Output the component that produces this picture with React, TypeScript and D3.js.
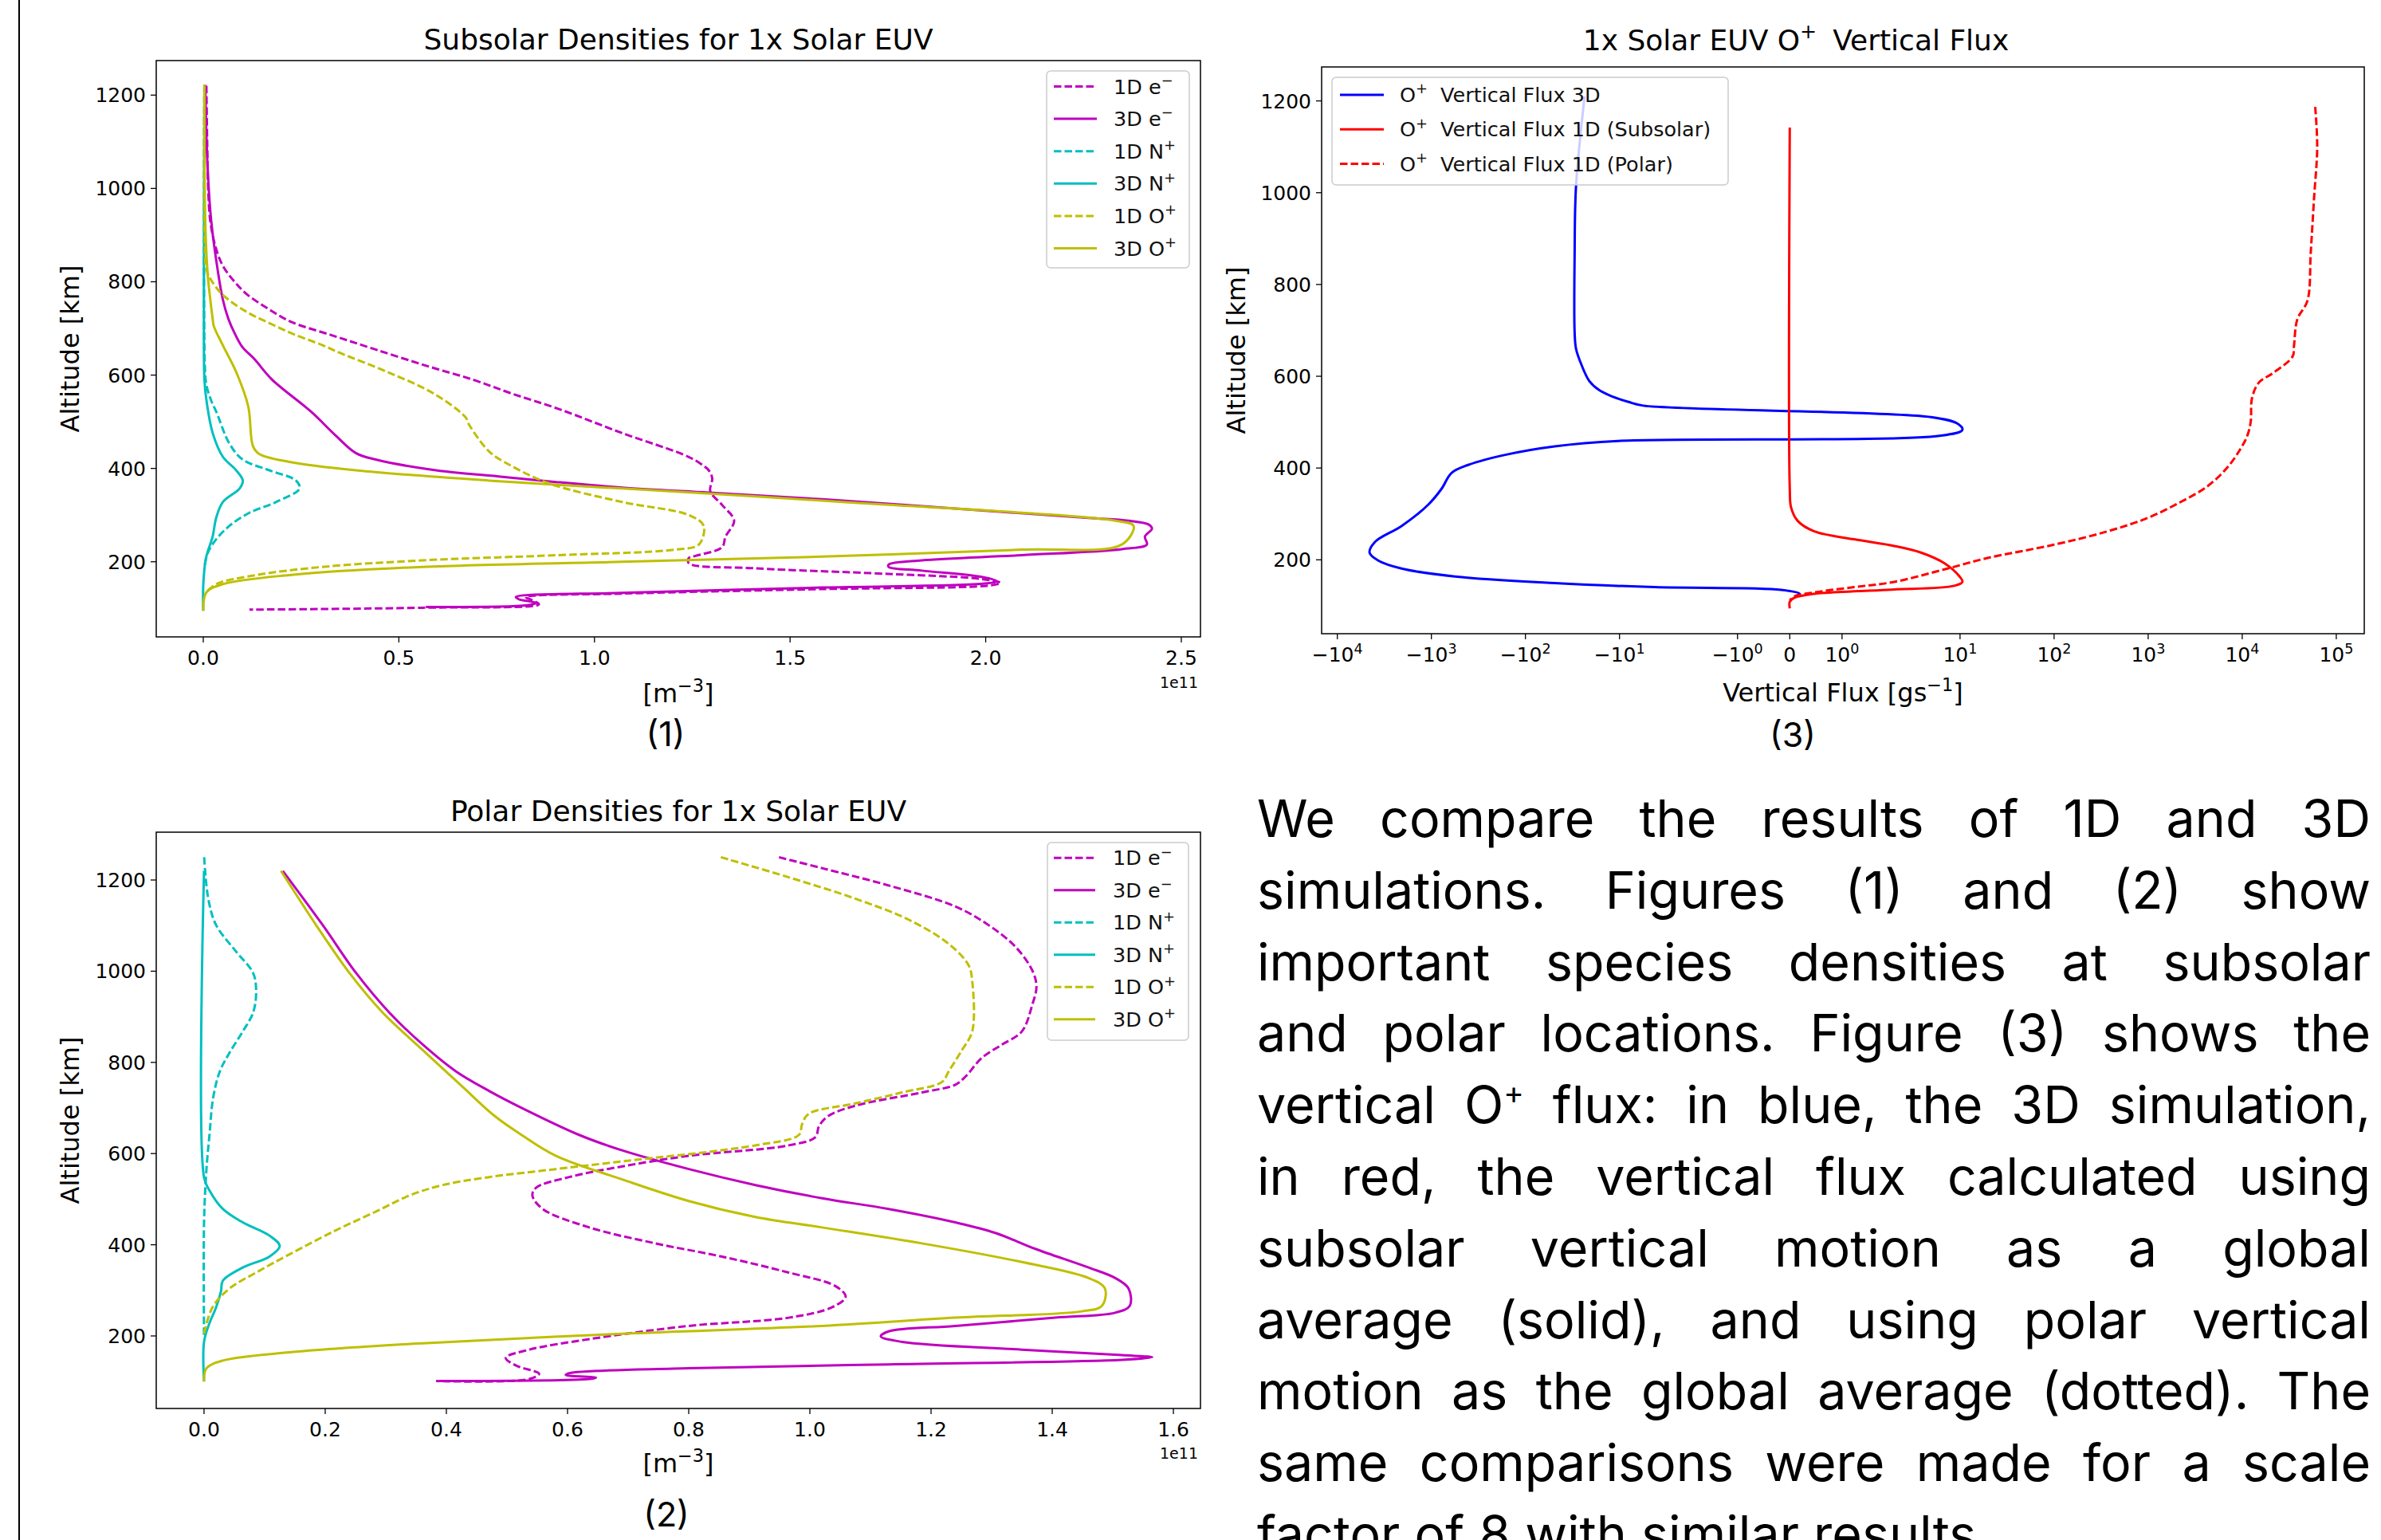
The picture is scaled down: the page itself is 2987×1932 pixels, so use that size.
import React, { useMemo } from "react";
import * as d3 from "d3";

type Pt = [number, number]; // [altitude km, value]

// ---------------- shared ticks ----------------
const altTicks = [200, 400, 600, 800, 1000, 1200];
const subsolarXTicks = [0.0, 0.5, 1.0, 1.5, 2.0, 2.5];
const polarXTicks = [0.0, 0.2, 0.4, 0.6, 0.8, 1.0, 1.2, 1.4, 1.6];
const fluxXTicks = [-1e4, -1e3, -1e2, -1e1, -1, 0, 1, 1e1, 1e2, 1e3, 1e4, 1e5];

// ---------------- (1) Subsolar densities [1e11 m^-3] ----------------
const sub1De: Pt[] = [
  [1220, 0.008], [1100, 0.010], [990, 0.013], [930, 0.018], [876, 0.031], [836, 0.049],
  [802, 0.078], [773, 0.112], [740, 0.170], [714, 0.225], [685, 0.33], [655, 0.44],
  [620, 0.57], [590, 0.69], [560, 0.79], [527, 0.91], [476, 1.07], [425, 1.24],
  [405, 1.28], [396, 1.292], [379, 1.301], [351, 1.296], [322, 1.326], [288, 1.357],
  [254, 1.335], [231, 1.326], [213, 1.26], [208, 1.241], [197, 1.241], [186, 1.41],
  [174, 1.75], [163, 1.99], [154.5, 2.038], [149, 2.007], [141.4, 1.58], [131.7, 1.07],
  [124.3, 0.824], [118, 0.84], [109, 0.858], [101.5, 0.561], [97.5, 0.118],
];
const sub3De: Pt[] = [
  [1222, 0.005], [1047, 0.011], [933, 0.020], [819, 0.038], [762, 0.050], [721, 0.064],
  [690, 0.08], [660, 0.10], [635, 0.13], [591, 0.175], [522, 0.275], [470, 0.339],
  [433, 0.390], [419, 0.441], [396, 0.595], [382, 0.765], [371, 0.901], [359, 1.071],
  [348, 1.292], [334, 1.582], [314, 1.922], [294, 2.263], [288, 2.365], [280, 2.416],
  [271, 2.425], [254, 2.407], [237, 2.412], [227, 2.348], [214, 2.092], [203, 1.837],
  [194, 1.752], [189, 1.752], [181, 1.837], [167.5, 1.99], [158.4, 2.028], [153.3, 1.999],
  [144.8, 1.582], [133.4, 1.071], [124.3, 0.799], [119.7, 0.807], [111.8, 0.850],
  [107.2, 0.833], [103.2, 0.569],
];
const sub1DN: Pt[] = [
  [1222, 0.003], [620, 0.004], [579, 0.008], [546, 0.020], [522, 0.033], [453, 0.067],
  [419, 0.101], [396, 0.169], [374, 0.237], [357, 0.246], [328, 0.186], [305, 0.118],
  [277, 0.067], [248, 0.033], [220, 0.012], [190, 0.003],
];
const sub3DN: Pt[] = [
  [1222, 0.003], [705, 0.0015], [590, 0.003], [550, 0.0075], [476, 0.024], [425, 0.050],
  [396, 0.084], [374, 0.101], [357, 0.093], [328, 0.050], [294, 0.033], [254, 0.024],
  [208, 0.007], [150, 0.0], [95, 0.0],
];
const sub1DO: Pt[] = [
  [1222, 0.003], [876, 0.004], [825, 0.0085], [796, 0.026], [768, 0.055], [734, 0.114],
  [711, 0.17], [688, 0.23], [664, 0.305], [648, 0.348], [607, 0.470], [560, 0.59],
  [510, 0.670], [493, 0.680], [436, 0.731], [408, 0.782], [368, 0.884], [328, 1.071],
  [300, 1.241], [277, 1.279], [237, 1.267], [226, 1.207], [214, 0.901], [203, 0.561],
  [189, 0.305], [171.5, 0.135], [152, 0.033], [134.5, 0.008],
];
const sub3DO: Pt[] = [
  [1222, 0.003], [933, 0.005], [819, 0.011], [762, 0.018], [721, 0.024], [705, 0.027],
  [664, 0.050], [607, 0.084], [533, 0.115], [448, 0.127], [431, 0.143], [414, 0.220],
  [396, 0.390], [374, 0.731], [357, 1.071], [340, 1.412], [322, 1.752], [305, 2.092],
  [288, 2.331], [277, 2.378], [237, 2.348], [226, 2.092], [211, 1.582], [200, 1.071],
  [189, 0.561], [171.5, 0.220], [152, 0.050], [134.5, 0.008], [95, 0.0],
];

// ---------------- (2) Polar densities [1e11 m^-3] ----------------
const pol1De: Pt[] = [
  [1250, 0.949], [1226, 1.020], [1188, 1.130], [1142, 1.240], [1101, 1.295], [1054, 1.339],
  [1002, 1.367], [967, 1.374], [926, 1.367], [868, 1.350], [839, 1.317], [810, 1.284],
  [769, 1.257], [751, 1.240], [734, 1.185], [705, 1.075], [682, 1.030], [660, 1.015],
  [636, 1.009], [618, 0.965], [595, 0.800], [572, 0.691], [548.5, 0.603], [525, 0.548],
  [508, 0.542], [478.5, 0.559], [438, 0.636], [403, 0.745], [374, 0.855], [339, 0.965],
  [309.5, 1.042], [286, 1.059], [263, 1.037], [240, 0.965], [222, 0.800], [193, 0.636],
  [170, 0.537], [152, 0.498], [135, 0.515], [117, 0.553], [105.5, 0.537], [101, 0.383],
];
const pol3De: Pt[] = [
  [1220, 0.130], [1101, 0.196], [996, 0.251], [909, 0.306], [839, 0.361], [780, 0.416],
  [737, 0.471], [699, 0.526], [641, 0.619], [607, 0.690], [566, 0.800], [531, 0.910],
  [502, 1.020], [478.5, 1.130], [449, 1.240], [426, 1.306], [391, 1.372], [350, 1.460],
  [327, 1.504], [304, 1.526], [266, 1.528], [251, 1.504], [240, 1.405], [222, 1.240],
  [210, 1.130], [199, 1.117], [187, 1.152], [170, 1.350], [158, 1.515], [153.3, 1.565],
  [147.5, 1.515], [137.6, 1.130], [129, 0.800], [118.4, 0.603], [114.3, 0.597],
  [108.5, 0.647], [105.5, 0.636], [101, 0.388],
];
const pol1DN: Pt[] = [
  [1250, 0.0002], [1159, 0.007], [1101, 0.020], [1043, 0.053], [996, 0.081], [955, 0.086],
  [909, 0.081], [868, 0.064], [821, 0.042], [780, 0.026], [722, 0.015], [641, 0.009],
  [566, 0.004], [449, 0.0], [200, 0.0],
];
const pol3DN: Pt[] = [
  [1220, 0.0], [548, 0.0], [519, 0.009], [478.5, 0.031], [449, 0.064], [420, 0.108],
  [397, 0.125], [374, 0.108], [350, 0.064], [321, 0.031], [298, 0.028], [263, 0.020],
  [228, 0.009], [187, 0.0], [100, 0.0],
];
const pol1DO: Pt[] = [
  [1250, 0.853], [1206, 0.965], [1159, 1.075], [1113, 1.163], [1060, 1.229], [1013, 1.262],
  [978, 1.268], [868, 1.268], [827, 1.251], [780, 1.229], [757, 1.218], [734, 1.152],
  [710, 1.075], [687, 0.998], [664, 0.987], [641, 0.982], [618, 0.910], [583, 0.691],
  [566, 0.581], [548.5, 0.471], [531, 0.394], [508, 0.339], [473, 0.284], [432, 0.218],
  [379, 0.141], [339, 0.086], [304, 0.042], [263, 0.014], [205, 0.0],
];
const pol3DO: Pt[] = [
  [1220, 0.127], [1101, 0.185], [996, 0.240], [909, 0.295], [827, 0.361], [746, 0.427],
  [682, 0.480], [641, 0.524], [595, 0.581], [543, 0.691], [496, 0.800], [461, 0.910],
  [438, 1.020], [403, 1.185], [362, 1.350], [327, 1.460], [304, 1.487], [266, 1.482],
  [254, 1.449], [240, 1.240], [222, 1.020], [205, 0.691], [184, 0.361], [164, 0.141],
  [146, 0.031], [129, 0.004], [100, 0.0],
];

// ---------------- (3) O+ vertical flux [g/s] ----------------
const flux3D: Pt[] = [
  [1210, -23.5], [1014, -29.0], [869, -30.0], [695, -30.0], [660, -29.0], [626, -25.5],
  [590, -21.0], [570, -16.5], [556, -12.0], [544, -8.0], [536, -5.6], [511, 4.9],
  [496.6, 9.42], [483.2, 10.6], [470.5, 6.27], [459, -10.4], [447.3, -48.9], [430, -153],
  [406.8, -406], [389.4, -611], [354.7, -780], [320, -1082], [273.6, -2077], [238.9, -3986],
  [215.7, -4543], [198.4, -3672], [181, -2077], [163.6, -564], [149.2, -48.9], [140.5, -4.24],
  [134.7, -0.167], [126, 0.19], [120.2, 0.089],
];
const flux1DSubsolar: Pt[] = [
  [1142, 0.0], [355, 0.0], [314, 0.025], [285, 0.15], [262, 0.47], [244.7, 1.23],
  [230.2, 2.0], [215.7, 3.84], [192.6, 6.8], [163.6, 9.88], [152, 10.6], [143.4, 8.7],
  [134.7, 1.87], [126, 0.47], [117.3, 0.089], [108.6, 0.0], [94, 0.0],
];
const flux1DPolar: Pt[] = [
  [1187, 59700], [1100, 62700], [985, 57900], [869, 53500], [765, 49400], [724, 38500],
  [666, 35500], [643, 34300], [608, 21600], [586, 15000], [552, 12700], [500, 12300],
  [470, 11300], [442, 9600], [401, 6940], [360, 4250], [326, 2215], [291, 981],
  [262, 369], [233, 100], [204, 19.6], [181, 7.38], [152, 2.0], [140.5, 1.23],
  [129, 0.47], [120.2, 0.089], [111.5, 0.0],
];

const paragraphLines = [
  "We compare the results of 1D and 3D",
  "simulations. Figures (1) and (2) show",
  "important species densities at subsolar",
  "and polar locations. Figure (3) shows the",
  "vertical O^+ flux: in blue, the 3D simulation,",
  "in red, the vertical flux calculated using",
  "subsolar vertical motion as a global",
  "average (solid), and using polar vertical",
  "motion as the global average (dotted). The",
  "same comparisons were made for a scale",
  "factor of 8 with similar results.",
];

// ---------------- styling ----------------
const W = 2987;
const H = 1932;
const MPL = "'DejaVu Sans', Verdana, sans-serif";
const SLIDE = "Inter, 'Noto Sans', 'Liberation Sans', sans-serif";
const MAG = "#bf00bf", CYA = "#00bfbf", YEL = "#bfbf00", BLU = "#0000ff", RED = "#ff0000";
const LW = 3;
const DASH = "9.5,4";
const TICK_FS = 25;
const LEG_FS = 25.5;
const LAB_FS = 32;
const TITLE_FS = 36;

type Seg = { t: string; sup?: boolean; dx?: number };

function segs(nodes: Seg[], fs: number) {
  const out: any[] = [];
  const raise = fs * 0.42;
  let up = false;
  nodes.forEach((s, i) => {
    if (s.sup) {
      out.push(
        <tspan key={i} fontSize={fs * 0.7} dy={up ? 0 : -raise} dx={s.dx || 0}>{s.t}</tspan>
      );
      up = true;
    } else {
      out.push(<tspan key={i} dy={up ? raise : 0} dx={s.dx || 0}>{s.t}</tspan>);
      up = false;
    }
  });
  return out;
}

type Series = { data: Pt[]; color: string; dashed: boolean; label: Seg[] };

const symT = (x: number) => {
  const c = 2, a = 1 / (1 - 1 / 10);
  const ax = Math.abs(x);
  return ax <= c ? x * a : Math.sign(x) * c * (a + Math.log10(ax / c));
};

function Panel(props: {
  id: string;
  l: number; r: number; t: number; b: number;
  xs: (v: number) => number;
  ys: d3.ScaleLinear<number, number>;
  xTicks: number[];
  xTickLabel: (v: number) => any;
  series: Series[];
}) {
  const { id, l, r, t, b, xs, ys, xTicks, xTickLabel, series } = props;
  const line = d3
    .line<Pt>()
    .x((d) => xs(d[1]))
    .y((d) => ys(d[0]))
    .curve(d3.curveCatmullRom.alpha(0.5));
  return (
    <g>
      <defs>
        <clipPath id={id}>
          <rect x={l} y={t} width={r - l} height={b - t} />
        </clipPath>
      </defs>
      <g clipPath={`url(#${id})`}>
        {series.map((s, i) => (
          <path
            key={i}
            d={line(s.data) || ""}
            fill="none"
            stroke={s.color}
            strokeWidth={LW}
            strokeDasharray={s.dashed ? DASH : undefined}
            strokeLinejoin="round"
          />
        ))}
      </g>
      <rect x={l} y={t} width={r - l} height={b - t} fill="none" stroke="#000" strokeWidth={1.5} />
      {altTicks.map((v) => (
        <g key={"y" + v}>
          <line x1={l - 7} x2={l} y1={ys(v)} y2={ys(v)} stroke="#000" strokeWidth={1.3} />
          <text x={l - 13} y={ys(v) + 9} textAnchor="end" fontSize={TICK_FS} fontFamily={MPL} fill="#000">
            {v}
          </text>
        </g>
      ))}
      {xTicks.map((v) => (
        <g key={"x" + v}>
          <line x1={xs(v)} x2={xs(v)} y1={b} y2={b + 7} stroke="#000" strokeWidth={1.3} />
          <text x={xs(v)} y={b + 35} textAnchor="middle" fontSize={TICK_FS} fontFamily={MPL} fill="#000">
            {xTickLabel(v)}
          </text>
        </g>
      ))}
    </g>
  );
}

function Legend(props: {
  x: number; y: number; w: number; h: number;
  row0: number; dy: number; lx0: number; lx1: number; tx: number;
  items: Series[];
}) {
  const { x, y, w, h, row0, dy, lx0, lx1, tx, items } = props;
  return (
    <g>
      <rect x={x} y={y} width={w} height={h} rx={5} ry={5} fill="#fff" fillOpacity={0.8} stroke="#cccccc" strokeWidth={1.5} />
      {items.map((s, i) => {
        const cy = row0 + i * dy;
        return (
          <g key={i}>
            <line x1={lx0} x2={lx1} y1={cy} y2={cy} stroke={s.color} strokeWidth={LW} strokeDasharray={s.dashed ? DASH : undefined} />
            <text x={tx} y={cy + 9} fontSize={LEG_FS} fontFamily={MPL} fill="#111">
              {segs(s.label, LEG_FS)}
            </text>
          </g>
        );
      })}
    </g>
  );
}

function Paragraph() {
  const left = 1577, right = 2974, fs = 64.5, base0 = 1050, lh = 89.8;
  const ctx = useMemo(() => {
    const c = document.createElement("canvas").getContext("2d");
    return c;
  }, []);
  const measure = (s: string, size: number) => {
    if (!ctx) return s.length * size * 0.5;
    ctx.font = `${size}px ${SLIDE}`;
    return ctx.measureText(s).width;
  };
  const wordWidth = (w: string) => {
    if (w.includes("^+")) {
      const [a, rest] = w.split("^+");
      return measure(a, fs) + measure("+", fs * 0.6) + measure(rest, fs);
    }
    return measure(w, fs);
  };
  return (
    <g fontFamily={SLIDE} fontSize={fs} fill="#000">
      {paragraphLines.map((ln, i) => {
        const words = ln.split(" ");
        const widths = words.map(wordWidth);
        const total = widths.reduce((a, b) => a + b, 0);
        const last = i === paragraphLines.length - 1;
        let gap = last ? measure(" ", fs) : (right - left - total) / (words.length - 1);
        let scale = 1;
        if (gap < fs * 0.15) {
          gap = fs * 0.15;
          scale = (right - left) / (total + gap * (words.length - 1));
        }
        const y = base0 + i * lh;
        let x = 0;
        const els = words.map((w, j) => {
          const px = x;
          x += widths[j] + gap;
          if (w.includes("^+")) {
            const [a, rest] = w.split("^+");
            return (
              <text key={j} x={px} y={0}>
                <tspan>{a}</tspan>
                <tspan fontSize={fs * 0.6} dy={-fs * 0.38}>+</tspan>
                <tspan dy={fs * 0.38}>{rest}</tspan>
              </text>
            );
          }
          return (
            <text key={j} x={px} y={0}>
              {w}
            </text>
          );
        });
        return (
          <g key={i} transform={`translate(${left},${y}) scale(${scale},1)`}>
            {els}
          </g>
        );
      })}
    </g>
  );
}

const eLab = (d: string): Seg[] => [{ t: `${d} e` }, { t: "\u2212", sup: true }];
const nLab = (d: string): Seg[] => [{ t: `${d} N` }, { t: "+", sup: true }];
const oLab = (d: string): Seg[] => [{ t: `${d} O` }, { t: "+", sup: true }];

export default function App() {
  // panel 1
  const p1 = { l: 196, r: 1506, t: 76, b: 799 };
  const x1 = d3.scaleLinear().domain([-0.1202, 2.549]).range([p1.l, p1.r]);
  const y1 = d3.scaleLinear().domain([39, 1274]).range([p1.b, p1.t]);
  // panel 2
  const p2 = { l: 196, r: 1506, t: 1044, b: 1767 };
  const x2 = d3.scaleLinear().domain([-0.0789, 1.6447]).range([p2.l, p2.r]);
  const y2 = d3.scaleLinear().domain([40.9, 1304.9]).range([p2.b, p2.t]);
  // panel 3 (symlog, linthresh 2)
  const p3 = { l: 1658, r: 2966, t: 84, b: 795 };
  const x3lin = d3.scaleLinear().domain([-9.954, 12.215]).range([p3.l, p3.r]);
  const x3 = (v: number) => x3lin(symT(v));
  const y3 = d3.scaleLinear().domain([39, 1274]).range([p3.b, p3.t]);

  const s1: Series[] = [
    { data: sub1De, color: MAG, dashed: true, label: eLab("1D") },
    { data: sub3De, color: MAG, dashed: false, label: eLab("3D") },
    { data: sub1DN, color: CYA, dashed: true, label: nLab("1D") },
    { data: sub3DN, color: CYA, dashed: false, label: nLab("3D") },
    { data: sub1DO, color: YEL, dashed: true, label: oLab("1D") },
    { data: sub3DO, color: YEL, dashed: false, label: oLab("3D") },
  ];
  const s2: Series[] = [
    { data: pol1De, color: MAG, dashed: true, label: eLab("1D") },
    { data: pol3De, color: MAG, dashed: false, label: eLab("3D") },
    { data: pol1DN, color: CYA, dashed: true, label: nLab("1D") },
    { data: pol3DN, color: CYA, dashed: false, label: nLab("3D") },
    { data: pol1DO, color: YEL, dashed: true, label: oLab("1D") },
    { data: pol3DO, color: YEL, dashed: false, label: oLab("3D") },
  ];
  const s3: Series[] = [
    { data: flux3D, color: BLU, dashed: false, label: [{ t: "O" }, { t: "+", sup: true }, { t: "Vertical Flux 3D", dx: 16 }] },
    { data: flux1DSubsolar, color: RED, dashed: false, label: [{ t: "O" }, { t: "+", sup: true }, { t: "Vertical Flux 1D (Subsolar)", dx: 16 }] },
    { data: flux1DPolar, color: RED, dashed: true, label: [{ t: "O" }, { t: "+", sup: true }, { t: "Vertical Flux 1D (Polar)", dx: 16 }] },
  ];

  const f1 = d3.format(".1f");
  const fluxLabel = (v: number) => {
    if (v === 0) return "0";
    const e = Math.round(Math.log10(Math.abs(v)));
    return segs([{ t: (v < 0 ? "\u2212" : "") + "10" }, { t: String(e), sup: true }], TICK_FS);
  };

  return (
    <svg
      width={W}
      height={H}
      viewBox={`0 0 ${W} ${H}`}
      style={{ position: "absolute", left: 0, top: 0, display: "block", background: "#fff" }}
    >
      <rect x={0} y={0} width={W} height={H} fill="#fff" />
      <line x1={24} x2={24} y1={0} y2={H} stroke="#000" strokeWidth={2} />

      {/* Panel 1 */}
      <text x={851} y={62} textAnchor="middle" fontSize={TITLE_FS} fontFamily={MPL} fill="#000">
        Subsolar Densities for 1x Solar EUV
      </text>
      <Panel id="c1" {...p1} xs={x1} ys={y1} xTicks={subsolarXTicks} xTickLabel={(v) => f1(v)} series={s1} />
      <Legend x={1313} y={89} w={179} h={247} row0={108.5} dy={40.6} lx0={1322} lx1={1376} tx={1397} items={s1} />
      <text x={1503} y={863} textAnchor="end" fontSize={19} fontFamily={MPL} fill="#000">1e11</text>
      <text x={851} y={881} textAnchor="middle" fontSize={LAB_FS} fontFamily={MPL} fill="#000">
        {segs([{ t: "[m" }, { t: "\u22123", sup: true }, { t: "]" }], LAB_FS)}
      </text>
      <text transform={`translate(99,${(p1.t + p1.b) / 2}) rotate(-90)`} textAnchor="middle" fontSize={LAB_FS} fontFamily={MPL} fill="#000">
        Altitude [km]
      </text>
      <text x={835} y={936} textAnchor="middle" fontSize={43} fontFamily={SLIDE} fill="#000">(1)</text>

      {/* Panel 2 */}
      <text x={851} y={1030} textAnchor="middle" fontSize={TITLE_FS} fontFamily={MPL} fill="#000">
        Polar Densities for 1x Solar EUV
      </text>
      <Panel id="c2" {...p2} xs={x2} ys={y2} xTicks={polarXTicks} xTickLabel={(v) => f1(v)} series={s2} />
      <Legend x={1314} y={1057} w={177} h={248} row0={1076.3} dy={40.5} lx0={1322} lx1={1374} tx={1396} items={s2} />
      <text x={1503} y={1830} textAnchor="end" fontSize={19} fontFamily={MPL} fill="#000">1e11</text>
      <text x={851} y={1847} textAnchor="middle" fontSize={LAB_FS} fontFamily={MPL} fill="#000">
        {segs([{ t: "[m" }, { t: "\u22123", sup: true }, { t: "]" }], LAB_FS)}
      </text>
      <text transform={`translate(99,${(p2.t + p2.b) / 2}) rotate(-90)`} textAnchor="middle" fontSize={LAB_FS} fontFamily={MPL} fill="#000">
        Altitude [km]
      </text>
      <text x={836} y={1915} textAnchor="middle" fontSize={43} fontFamily={SLIDE} fill="#000">(2)</text>

      {/* Panel 3 */}
      <text x={2253} y={63} textAnchor="middle" fontSize={TITLE_FS} fontFamily={MPL} fill="#000">
        {segs([{ t: "1x Solar EUV O" }, { t: "+", sup: true }, { t: "Vertical Flux", dx: 20 }], TITLE_FS)}
      </text>
      <Panel id="c3" {...p3} xs={x3} ys={y3} xTicks={fluxXTicks} xTickLabel={fluxLabel} series={s3} />
      <Legend x={1671} y={97} w={497} h={135} row0={119} dy={43.3} lx0={1681} lx1={1736} tx={1756} items={s3} />
      <text x={2312} y={880} textAnchor="middle" fontSize={LAB_FS} fontFamily={MPL} fill="#000">
        {segs([{ t: "Vertical Flux [gs" }, { t: "\u22121", sup: true }, { t: "]" }], LAB_FS)}
      </text>
      <text transform={`translate(1562,${(p3.t + p3.b) / 2}) rotate(-90)`} textAnchor="middle" fontSize={LAB_FS} fontFamily={MPL} fill="#000">
        Altitude [km]
      </text>
      <text x={2249} y={937} textAnchor="middle" fontSize={43} fontFamily={SLIDE} fill="#000">(3)</text>

      <Paragraph />
    </svg>
  );
}
